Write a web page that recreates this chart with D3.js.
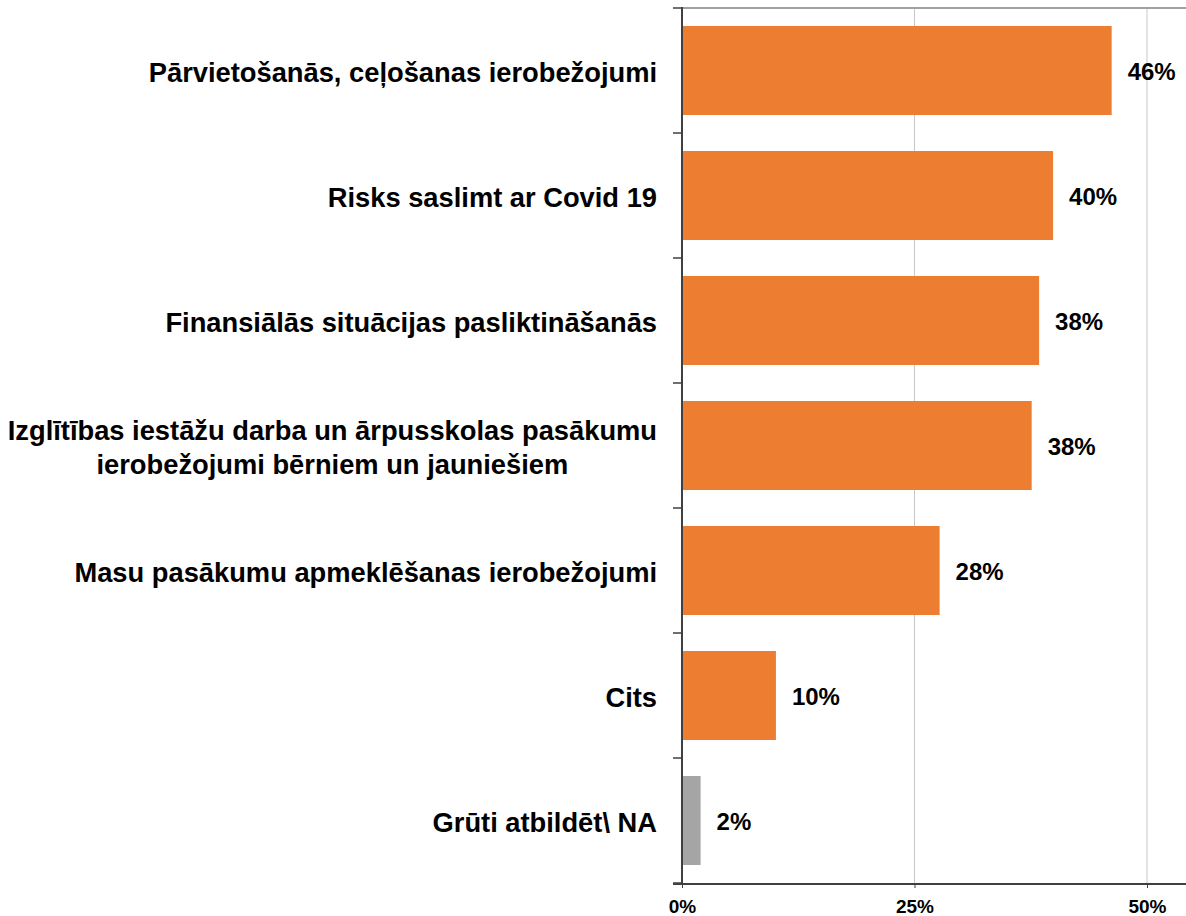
<!DOCTYPE html>
<html>
<head>
<meta charset="utf-8">
<script src="https://cdn.jsdelivr.net/npm/d3@7"></script>
<style>
body { margin: 0; background: #fff; }
text { font-family: "Liberation Sans", Arial, sans-serif; font-weight: bold; fill: #000; }
</style>
</head>
<body>
<svg id="chart" width="1186" height="916"></svg>
<script>
var categories = [
	"Pārvietošanās, ceļošanas ierobežojumi",
	"Risks saslimt ar Covid 19",
	"Finansiālās situācijas pasliktināšanās",
	"Izglītības iestāžu darba un ārpusskolas pasākumu\nierobežojumi bērniem un jauniešiem",
	"Masu pasākumu apmeklēšanas ierobežojumi",
	"Cits",
	"Grūti atbildēt\\ NA"
];
var values = [46.2, 39.9, 38.4, 37.6, 27.7, 10.1, 2.0];
var xTicks = [0, 25, 50];

var svg = d3.select('#chart'),
	width = +svg.attr("width"),
	plotLeft = 682,
	plotTop = 8,
	plotBottom = 883;

var x = d3.scaleLinear()
	.domain([0, 50])
	.range([plotLeft, 1147]);

var y = d3.scaleBand()
	.domain(categories)
	.range([plotTop, plotBottom])
	.paddingInner(0.288)
	.paddingOuter(0.144);

var color = d3.scaleOrdinal()
	.domain(categories)
	.range(categories.map(function(d, i) { return i == categories.length - 1 ? "#a5a5a5" : "#ed7d31"; }));

// gridlines
svg.append("g")
	.selectAll("line")
	.data(xTicks.slice(1))
	.enter().append("line")
	.attr("x1", function(d) { return x(d); })
	.attr("x2", function(d) { return x(d); })
	.attr("y1", plotTop)
	.attr("y2", plotBottom + 1)
	.attr("stroke", "#c8c8c8")
	.attr("stroke-width", 1);

// top border
svg.append("line")
	.attr("x1", plotLeft).attr("x2", width)
	.attr("y1", plotTop).attr("y2", plotTop)
	.attr("stroke", "#a0a0a0")
	.attr("stroke-width", 2);

// bars
svg.append("g")
	.selectAll("rect")
	.data(values)
	.enter().append("rect")
	.attr("x", x(0))
	.attr("y", function(d, i) { return y(categories[i]); })
	.attr("width", function(d) { return x(d) - x(0); })
	.attr("height", y.bandwidth())
	.attr("fill", function(d, i) { return color(categories[i]); });

// value labels
svg.append("g")
	.selectAll("text")
	.data(values)
	.enter().append("text")
	.attr("x", function(d) { return x(d) + 16; })
	.attr("y", function(d, i) { return y(categories[i]) + y.bandwidth() / 2; })
	.attr("dy", "0.4em")
	.style("font-size", "24px")
	.text(function(d) { return Math.round(d) + "%"; });

// left axis: line + ticks at band boundaries
var yAxis = svg.append("g").attr("class", "axis axis-y");
yAxis.append("line")
	.attr("x1", plotLeft).attr("x2", plotLeft)
	.attr("y1", plotTop - 1).attr("y2", plotBottom + 2)
	.attr("stroke", "#404040")
	.attr("stroke-width", 2);
yAxis.selectAll("line.tick")
	.data(d3.range(categories.length + 1))
	.enter().append("line")
	.attr("class", "tick")
	.attr("x1", plotLeft - 9).attr("x2", plotLeft)
	.attr("y1", function(i) { return plotTop + i * y.step(); })
	.attr("y2", function(i) { return plotTop + i * y.step(); })
	.attr("stroke", "#404040")
	.attr("stroke-width", 1.5);

// category labels, multi-line ones centred on each other
var labels = svg.append("g")
	.selectAll("text")
	.data(categories)
	.enter().append("text")
	.style("font-size", "27.3px")
	.attr("text-anchor", "middle");

labels.each(function(d) {
	var lines = d.split("\n"),
		t = d3.select(this),
		cy = y(d) + y.bandwidth() / 2 + 11,
		lh = 34;
	lines.forEach(function(line, j) {
		t.append("tspan")
			.attr("x", 0)
			.attr("y", cy + (j - (lines.length - 1) / 2) * lh)
			.text(line);
	});
	var w = this.getBBox().width;
	t.selectAll("tspan").attr("x", 657 - w / 2);
});

// bottom axis
svg.append("line")
	.attr("x1", plotLeft - 9).attr("x2", width)
	.attr("y1", plotBottom + 1).attr("y2", plotBottom + 1)
	.attr("stroke", "#404040")
	.attr("stroke-width", 2);

var xAxis = svg.append("g")
	.attr("class", "axis axis-x")
	.attr("transform", "translate(0," + (plotBottom + 1) + ")")
	.call(d3.axisBottom(x).tickValues(xTicks).tickSize(4).tickPadding(12).tickFormat(function(d) { return d + "%"; }));
xAxis.select(".domain").remove();
xAxis.selectAll(".tick line").attr("stroke", "#404040");
xAxis.selectAll("text")
	.style("font-family", "'Liberation Sans', Arial, sans-serif")
	.style("font-weight", "bold")
	.style("font-size", "19px")
	.attr("fill", "#000");
</script>
</body>
</html>
